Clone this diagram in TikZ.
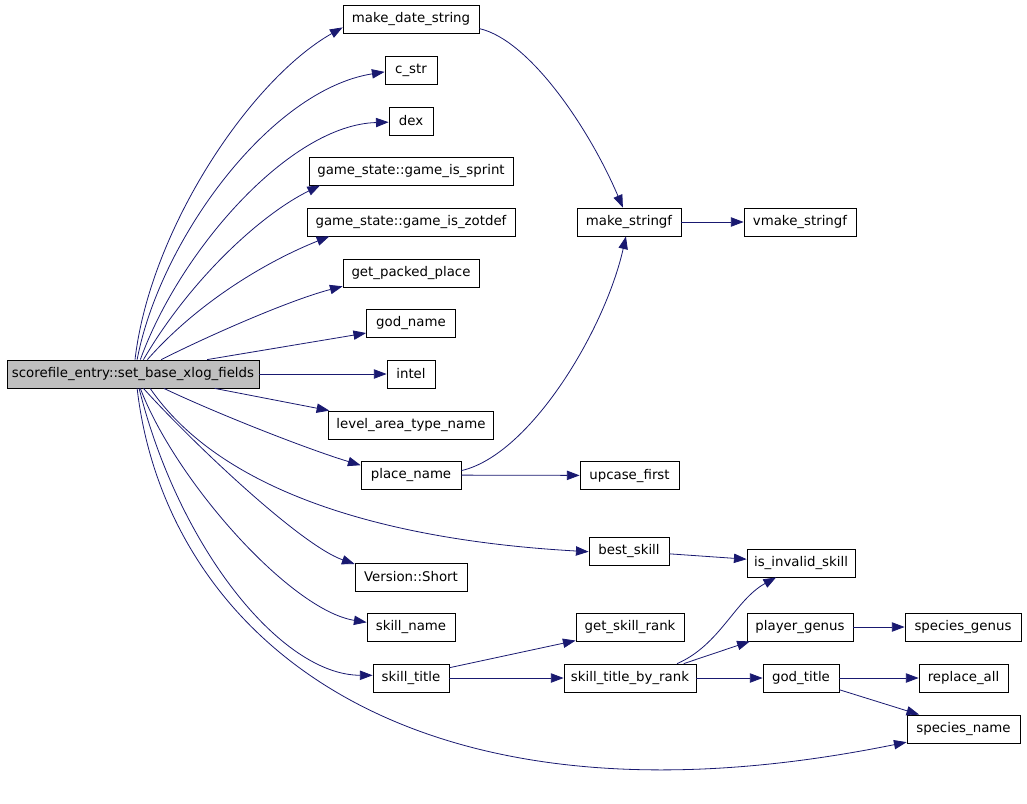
\documentclass[tikz,border=0pt]{standalone}
\usepackage{fontspec}
\setmainfont{DejaVu Sans}
\usetikzlibrary{arrows.meta}
\definecolor{edgeblue}{HTML}{191970}
\definecolor{rootgray}{HTML}{BFBFBF}

\begin{document}
\begin{tikzpicture}
	[x=0.75pt, y=-0.75pt, font=\fontsize{10}{12}\selectfont,
	every node/.style={rectangle, draw=black, line width=0.6pt,
		inner sep=0pt, minimum height=21pt, align=center},
	boxw/.style={minimum width=#1*0.75pt},
	call/.style={draw=edgeblue, line width=0.6pt,
		-{Triangle[length=9.5pt,width=7pt]}},
	]
	\useasboundingbox (0,0) rectangle (1027,803);
	\node[boxw=252, fill=rootgray] (root) at (133,374) {scorefile\_entry::set\_base\_xlog\_fields};
	% first column
	\node[boxw=136] (mds) at (411,19) {make\_date\_string};
	\node[boxw=52] (cstr) at (411,70.5) {c\_str};
	\node[boxw=44] (dex) at (411,121) {dex};
	\node[boxw=204] (sprint) at (411,171) {game\_state::game\_is\_sprint};
	\node[boxw=208] (zotdef) at (411,222) {game\_state::game\_is\_zotdef};
	\node[boxw=136] (gpp) at (411,273) {get\_packed\_place};
	\node[boxw=89] (godname) at (411,323.5) {god\_name};
	\node[boxw=48] (intel) at (411,374) {intel};
	\node[boxw=165] (lat) at (411,425) {level\_area\_type\_name};
	\node[boxw=100] (place) at (411,475) {place\_name};
	\node[boxw=112] (short) at (411,577) {Version::Short};
	\node[boxw=88] (skname) at (411,627) {skill\_name};
	\node[boxw=76] (sktitle) at (411,678) {skill\_title};
	% second column
	\node[boxw=104] (mksf) at (629,222) {make\_stringf};
	\node[boxw=99] (upcase) at (629.5,475.5) {upcase\_first};
	\node[boxw=80] (best) at (629,551) {best\_skill};
	\node[boxw=108] (gsr) at (630,627) {get\_skill\_rank};
	\node[boxw=132] (stbr) at (630,678) {skill\_title\_by\_rank};
	% third column
	\node[boxw=112] (vmksf) at (800,222) {vmake\_stringf};
	\node[boxw=108] (invalid) at (801,563) {is\_invalid\_skill};
	\node[boxw=106] (pgenus) at (800,627) {player\_genus};
	\node[boxw=76] (godtitle) at (801,678) {god\_title};
	% fourth column
	\node[boxw=116] (sgenus) at (963,627) {species\_genus};
	\node[boxw=89] (replall) at (963.5,678) {replace\_all};
	\node[boxw=113] (spname) at (963.5,729) {species\_name};

	\draw[call] (root.82) .. controls (150,230) and (250,80) .. (mds.187);
	\draw[call] (root.74) .. controls (160,240) and (270,90) .. (cstr.183);
	\draw[call] (root.63) .. controls (180,250) and (290,125) .. (dex.183);
	\draw[call] (root.54) .. controls (190,280) and (260,215) .. (sprint.189);
	\draw[call] (root.45) .. controls (200,300) and (270,260) .. (zotdef.190);
	\draw[call] (root.27) .. controls (210,335) and (290,300) .. (gpp.191);
	\draw[call] (root.11) -- (godname.192);
	\draw[call] (root) -- (intel);
	\draw[call] (root.-10) -- (lat.170);
	\draw[call] (root.-25) .. controls (220,415) and (310,450) .. (place.169);
	\draw[call] (root.-40) .. controls (220,490) and (380,540) .. (best.181);
	\draw[call] (root.-54) .. controls (190,440) and (300,545) .. (short.167);
	\draw[call] (root.-63) .. controls (175,480) and (290,610) .. (skname.174);
	\draw[call] (root.-67) .. controls (178,545) and (280,675) .. (sktitle.176);
	\draw[call] (root.-74) .. controls (165,630) and (400,845) .. (spname.193);

	\draw[call] (mds.-8) .. controls (530,40) and (590,130) .. (mksf.113);
	\draw[call] (place.5) .. controls (530,455) and (605,330) .. (mksf.258);
	\draw[call] (mksf) -- (vmksf);
	\draw[call] (place) -- (upcase);
	\draw[call] (best.-4) -- (invalid.176);
	\draw[call] (sktitle.15) -- (gsr.194);
	\draw[call] (sktitle) -- (stbr);
	\draw[call] (stbr.17) .. controls (720,645) and (735,600) .. (invalid.210);
	\draw[call] (stbr.15) -- (pgenus.196);
	\draw[call] (stbr) -- (godtitle);
	\draw[call] (pgenus) -- (sgenus);
	\draw[call] (godtitle) -- (replall);
	\draw[call] (godtitle.-17) -- (spname.162);
\end{tikzpicture}
\end{document}
